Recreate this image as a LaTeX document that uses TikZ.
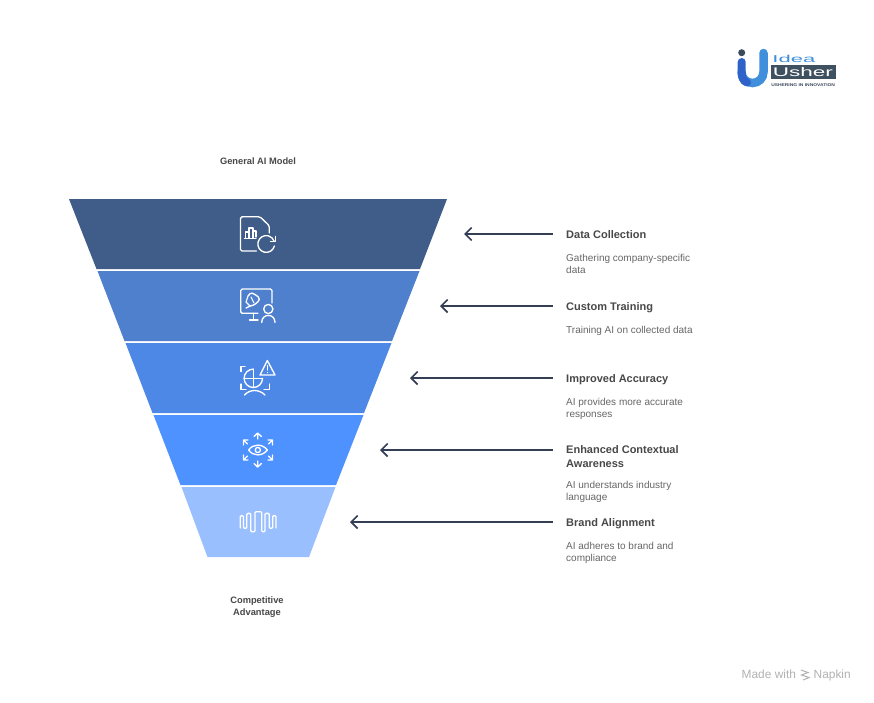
\documentclass[tikz,border=0pt]{standalone}
\usepackage{fontspec}
\setmainfont{Liberation Sans}
\definecolor{seg1}{HTML}{405C88}
\definecolor{seg2}{HTML}{4F80CE}
\definecolor{seg3}{HTML}{4D88E6}
\definecolor{seg4}{HTML}{4E92FF}
\definecolor{seg5}{HTML}{99BFFF}
\definecolor{arrowc}{HTML}{343E55}
\definecolor{headc}{HTML}{484848}
\definecolor{descc}{HTML}{666666}
\definecolor{ulight}{HTML}{3F8FDC}
\definecolor{udark}{HTML}{2F62C9}
\definecolor{udot}{HTML}{3A4A5C}
\definecolor{ubox}{HTML}{3F5060}
\usetikzlibrary{arrows.meta}
\tikzset{
  x=1pt,y=-1pt,
  icon/.style={draw=white,line width=1.35pt,line cap=round,line join=round},
  conn/.style={draw=arrowc,line width=1.6pt,-{Straight Barb[length=6.5pt,width=13pt,line width=1.6pt]}},
  head/.style={font=\bfseries\fontsize{11}{14}\selectfont,text=headc,align=left,anchor=base west,inner sep=0pt},
  desc/.style={font=\fontsize{10}{12}\selectfont,text=descc,align=left,anchor=north west,inner sep=0pt},
  endlabel/.style={font=\bfseries\fontsize{9.3}{12}\selectfont,text=headc,align=center,inner sep=0pt},
  foot/.style={font=\fontsize{11.9}{12}\selectfont,text=black!30,anchor=base west,inner sep=0pt},
}
\begin{document}
\begin{tikzpicture}
\useasboundingbox[fill=white] (0,0) rectangle (874,702);
% funnel
\fill[seg1] (69,199) -- (447,199) -- (420,269) -- (96.5,269) -- cycle;
\fill[seg2] (97.5,271) -- (419.5,271) -- (392,341) -- (124.5,341) -- cycle;
\fill[seg3] (125.5,343) -- (391.5,343) -- (364,413) -- (152.5,413) -- cycle;
\fill[seg4] (153.5,415) -- (363.5,415) -- (336,485) -- (180.5,485) -- cycle;
\fill[seg5] (181.5,487) -- (335.5,487) -- (309,557) -- (207.5,557) -- cycle;
% end labels
\node[endlabel] (top) at (258,161) {General AI Model};
\node[endlabel] (bottom) at (257,607) {Competitive\\Advantage};
% headings and descriptions
\node[head] (h1) at (566,238) {Data Collection};
\node[desc] (d1) at (566,254) {Gathering company-specific\\data};
\node[head] (h2) at (566,310) {Custom Training};
\node[desc] (d2) at (566,326) {Training AI on collected data};
\node[head] (h3) at (566,382) {Improved Accuracy};
\node[desc] (d3) at (566,398) {AI provides more accurate\\responses};
\node[head,anchor=west] (h4) at (566,457) {Enhanced Contextual\\Awareness};
\node[desc] (d4) at (566,481) {AI understands industry\\language};
\node[head] (h5) at (566,526) {Brand Alignment};
\node[desc] (d5) at (566,542) {AI adheres to brand and\\compliance};
% connectors
\foreach \n/\yy/\xe in {1/234/464,2/306/440,3/378/410,4/450/380,5/522/350}{
  \coordinate (s\n) at (553,\yy);
  \coordinate (e\n) at (\xe,\yy);
  \draw[conn] (s\n) -- (e\n);
}
% icon 1: document
\draw[icon,rounded corners=1.5pt] (269.3,233) -- (269.3,225.7) -- (260,216.8) -- (240.5,216.8) -- (240.5,251) -- (256.5,251);
\draw[icon,line width=1.1pt] (245.5,238) -- (245.5,232) -- (249,232) -- (249,238);
\draw[icon,line width=1.1pt] (249,238) -- (249,228) -- (253,228) -- (253,238);
\draw[icon,line width=1.1pt] (253,238) -- (253,231) -- (256,231) -- (256,237);
\draw[icon] (244.5,238.3) -- (256,238.3);
\draw[icon] (274.4,246) arc[start angle=14,end angle=340,radius=8.4];
\draw[icon] (275.5,236.5) -- (275.5,241.5) -- (270.5,241.5);
% icon 2: monitor, shuttlecock, person
\draw[icon,rounded corners=1.5pt] (258,313.3) -- (240.7,313.3) -- (240.7,289) -- (272,289) -- (272,303);
\draw[icon] (253.3,313.3) -- (253.3,320) (249.5,320) -- (258,320);
\draw[icon,rounded corners=1.5pt] (248,296) -- (251,292.5) -- (256,295) -- (259.5,298) -- (259,301) -- (254,305) -- (250,306) -- (246,308);
\draw[icon,line width=1.1pt] (248,296) -- (246,302) -- (250,306);
\draw[icon,line width=1.1pt] (251,297) -- (254,303);
\draw[icon] (268.3,309) circle[radius=4.6];
\draw[icon] (261.7,322.5) .. controls (261.7,313) and (275,313) .. (275,322.5);
% icon 3: brackets, globe, warning, arc
\draw[icon] (245,366.2) -- (241,366.2) -- (241,371.5);
\draw[icon] (241,384) -- (241,389.2) -- (246,389.2);
\draw[icon] (264,389.2) -- (269.3,389.2) -- (269.3,384);
\draw[icon] (262.5,378.3) arc[start angle=0,end angle=270,radius=9.2];
\draw[icon] (253.3,369.1) -- (253.3,387.5) (244.1,378.3) -- (262.5,378.3);
\draw[icon] (267.3,360.5) -- (260,375) -- (275,375) -- cycle;
\draw[icon,line width=1.1pt] (267.3,365.5) -- (267.3,370) (267.3,372.4) -- (267.3,372.6);
\draw[icon] (244.5,395) .. controls (250,389) and (259,389) .. (265,395);
% icon 4: eye and arrows
\draw[icon] (248.7,450) .. controls (253,443.5) and (262.5,443.5) .. (267.3,450) .. controls (262.5,456.5) and (253,456.5) .. (248.7,450) -- cycle;
\draw[icon] (257.8,450) circle[radius=2.6];
\draw[icon] (257.7,439) -- (257.7,434) (254,436.5) -- (257.7,433) -- (261.4,436.5);
\draw[icon] (257.7,461) -- (257.7,466.5) (254,463.5) -- (257.7,467) -- (261.4,463.5);
\draw[icon] (243.5,445) -- (243.5,440) -- (248,440) (243.5,440) -- (247.5,444);
\draw[icon] (272.5,445) -- (272.5,440) -- (268,440) (272.5,440) -- (268.5,444);
\draw[icon] (243.5,455) -- (243.5,460) -- (248,460) (243.5,460) -- (247.5,456);
\draw[icon] (272.5,455) -- (272.5,460) -- (268,460) (272.5,460) -- (268.5,456);
% icon 5: wave
\draw[icon,rounded corners=1pt] (240.3,528) -- (240.3,515.7) -- (243.5,515.7) -- (243.5,528.3) -- (246.8,528.3) -- (246.8,513.4) -- (250.8,513.4) -- (250.8,531.7) -- (255,531.7) -- (255,511.7) -- (261.7,511.7) -- (261.7,531.7) -- (265,531.7) -- (265,513.4) -- (269.3,513.4) -- (269.3,528.3) -- (272.7,528.3) -- (272.7,515.7) -- (276,515.7) -- (276,528);
% logo
\fill[udot] (741.7,52.7) circle[radius=3.5];
\draw[ulight,line width=8.5pt,line cap=round] (763.5,53) -- (763.5,72) arc[start angle=0,end angle=180,x radius=11,y radius=11];
\draw[udark,line width=8pt,line cap=round] (741.7,62) -- (741.7,72) .. controls (741.7,77) and (743,81) .. (747,82.5);
\node[font=\fontsize{10}{10}\selectfont,text=ulight,anchor=base west,inner sep=0pt,xscale=2.2] (idea) at (772,62) {Idea};
\node[fill=ubox,minimum width=65pt,minimum height=14pt,inner sep=0pt,anchor=north west] (box) at (771,65) {};
\node[font=\fontsize{12.5}{12}\selectfont,text=white,anchor=base west,inner sep=0pt,xscale=1.8] (usher) at (772.5,76.5) {Usher};
\node[font=\bfseries\fontsize{4}{4}\selectfont,text=udot,anchor=base west,inner sep=0pt,xscale=1.23] (tag) at (771,86.5) {USHERING IN INNOVATION};
% footer
\node[foot] (made) at (741.5,678.5) {Made with};
\node[foot] (napkin) at (813.5,678.5) {Napkin};
\draw[black!30,line width=1pt] (801,670) -- (808,672.5) -- (801.5,675) -- (809,677.5) -- (803,680);
\end{tikzpicture}
\end{document}
